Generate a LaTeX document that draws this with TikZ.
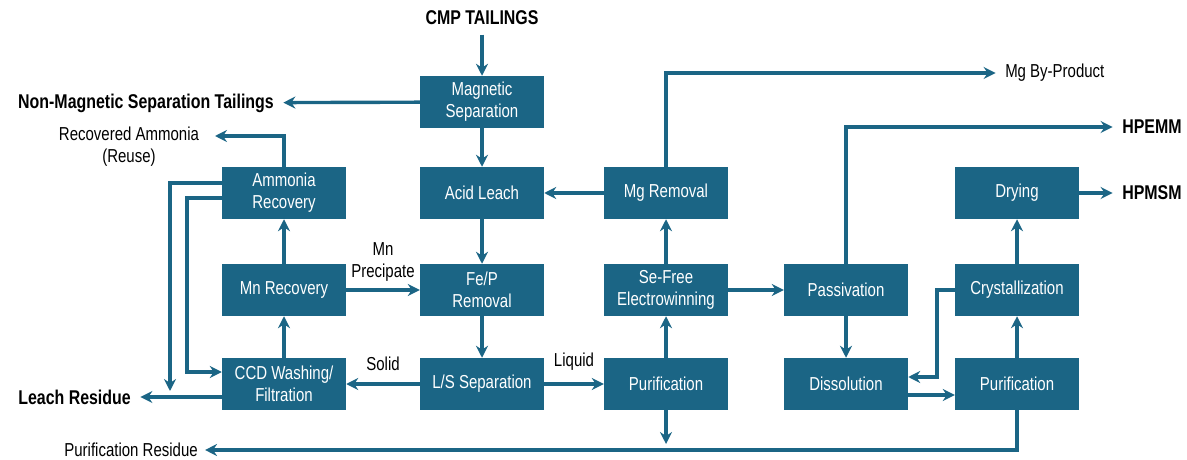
\documentclass[tikz,border=0pt]{standalone}
\usepackage{fontspec}
\setmainfont{Liberation Sans}[FakeStretch=0.8]
\usetikzlibrary{arrows.meta}
\definecolor{flowteal}{HTML}{1B6585}

\begin{document}
\begin{tikzpicture}[x=0.03cm,y=-0.03cm,
    proc/.style={rectangle, fill=flowteal, text=white, minimum width=3.72cm, minimum height=1.56cm,
      align=center, inner sep=0pt, font=\fontsize{16}{19}\selectfont},
    lbl/.style={text=black, inner sep=0pt, align=center, font=\fontsize{16}{19}\selectfont},
    outp/.style={lbl, font=\fontsize{17}{20}\selectfont\bfseries},
    flow/.style={draw=flowteal, line width=2.9pt, -{Stealth[length=3.6mm,width=3.6mm,inset=1.2mm]}}]
    \useasboundingbox (0,0) rectangle (1187,460);

    % process boxes
    \node[proc] (magsep) at (482,102) {Magnetic\\Separation};
    \node[proc] (acid) at (482,193) {Acid Leach};
    \node[proc] (fep) at (482,290) {Fe/P\\Removal};
    \node[proc] (ls) at (482,384) {L/S Separation};
    \node[proc] (ammrec) at (284,193) {Ammonia\\Recovery};
    \node[proc] (mnrec) at (284,290) {Mn Recovery};
    \node[proc] (ccd) at (284,384) {CCD Washing/\\Filtration};
    \node[proc] (mgrem) at (666,193) {Mg Removal};
    \node[proc] (sefree) at (666,290) {Se-Free\\Electrowinning};
    \node[proc] (purmid) at (666,384) {Purification};
    \node[proc] (passiv) at (846,290) {Passivation};
    \node[proc] (dissol) at (846,384) {Dissolution};
    \node[proc] (drying) at (1017,193) {Drying};
    \node[proc] (cryst) at (1017,290) {Crystallization};
    \node[proc] (purright) at (1017,384) {Purification};

    % inputs and outputs
    \node[outp] (cmp) at (482,18) {CMP TAILINGS};
    \node[outp, anchor=east] (nonmag) at (274,103) {Non-Magnetic Separation Tailings};
    \node[lbl] (recam) at (129,147) {Recovered Ammonia\\(Reuse)};
    \node[outp, anchor=east] (leach) at (131,397) {Leach Residue};
    \node[lbl, anchor=east] (purres) at (198,450) {Purification Residue};
    \node[lbl, anchor=west] (mgby) at (1005,73) {Mg By-Product};
    \node[outp, anchor=west] (hpemm) at (1122,127) {HPEMM};
    \node[outp, anchor=west] (hpmsm) at (1122,193) {HPMSM};
    \coordinate (recamtip) at (215,136);
    \coordinate (leachdrop) at (170,391);
    \coordinate (purmidtip) at (666,444);

    % main leach line
    \draw[flow, shorten <=8pt, shorten >=0pt] (cmp) -- (magsep);
    \draw[flow, shorten >=8pt] (magsep) -- (nonmag);
    \draw[flow] (magsep) -- (acid);
    \draw[flow] (acid) -- (fep);
    \draw[flow] (fep) -- (ls);
    \draw[flow] (ls) -- (ccd) node[lbl, midway, above=10pt] {Solid};
    \draw[flow] (ls) -- (purmid) node[lbl, midway, above=10pt] {Liquid};

    % manganese and ammonia recovery
    \draw[flow] (ccd) -- (mnrec);
    \draw[flow] (mnrec) -- (ammrec);
    \draw[flow] (mnrec) -- (fep) node[lbl, midway, above=6pt] {Mn\\Precipate};
    \draw[flow] (ammrec.north) |- (recamtip);
    \draw[flow] (ammrec.west |- 0,183) -| (leachdrop);
    \draw[flow] (ammrec.west |- 0,198) -| (187,372) -- (ccd.west |- 0,372);
    \draw[flow, shorten >=8pt] (ccd.west |- 0,397) -- (leach.east);

    % electrowinning branch
    \draw[flow] (purmid) -- (sefree);
    \draw[flow] (sefree) -- (mgrem);
    \draw[flow] (mgrem) -- (acid);
    \draw[flow, shorten >=8pt] (mgrem.north) |- (mgby.west);
    \draw[flow] (purmid.south) -- (purmidtip);
    \draw[flow] (sefree) -- (passiv);
    \draw[flow, shorten >=8pt] (passiv.north) |- (hpemm.west);
    \draw[flow] (passiv) -- (dissol);

    % sulfate branch
    \draw[flow] (dissol.east |- 0,395) -- (purright.west |- 0,395);
    \draw[flow] (cryst.west) -| (937,377) -- (dissol.east |- 0,377);
    \draw[flow] (purright) -- (cryst);
    \draw[flow] (cryst) -- (drying);
    \draw[flow, shorten >=8pt] (drying) -- (hpmsm);
    \draw[flow, shorten >=6pt] (purright.south) |- (purres.east);
\end{tikzpicture}
\end{document}
